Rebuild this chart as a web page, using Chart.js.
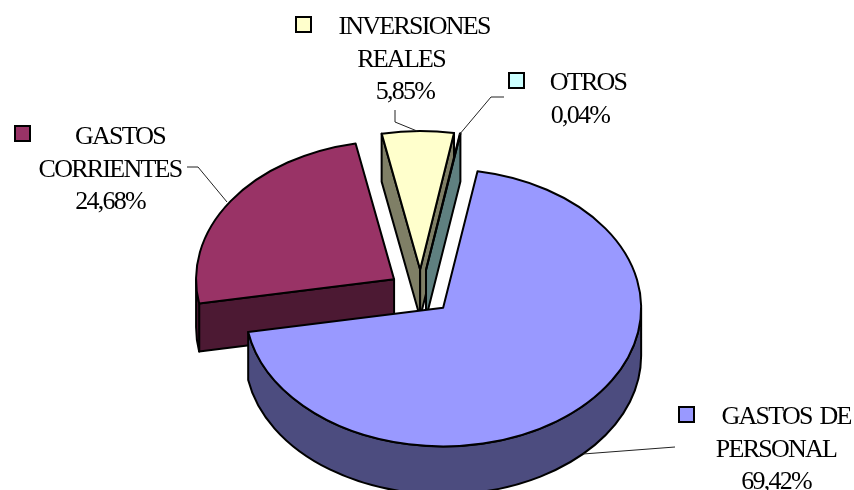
<!DOCTYPE html>
<html>
<head>
<meta charset="utf-8">
<title>Gastos</title>
<script src="https://cdn.jsdelivr.net/npm/chart.js@4"></script>
<style>
    html, body { margin: 0; padding: 0; background: #fff; }
    canvas { display: block; }
</style>
</head>
<body>
<canvas id="pie" width="854" height="490"></canvas>
<script>
// Data
const categories = ['GASTOS DE PERSONAL', 'GASTOS CORRIENTES', 'INVERSIONES REALES', 'OTROS'];
const values = [69.42, 24.68, 5.85, 0.04];
const labelLines = [['GASTOS DE', 'PERSONAL'], ['GASTOS', 'CORRIENTES'], ['INVERSIONES', 'REALES'], ['OTROS']];
const topColors = ['#9999ff', '#993366', '#ffffcc', '#ccffff'];
const sideColors = ['#4c4c7f', '#4c1933', '#7f7f66', '#5f8080'];

// 3D look of the pie
const TILT = 0.7;
const DEPTH = 48;
const EXPLODE = 32;
const RADIUS = 198;

// Label layout: key square, text centres, leader polyline (one entry per category)
const labelBoxes = [
    { key: [679, 407], xs: [786, 776, 776], y: 424, leader: [[675, 447], [583, 454]] },
    { key: [15, 126], xs: [120, 110, 110], y: 144, leader: [[187, 167], [198, 167], [227, 202]] },
    { key: [296, 17], xs: [414, 401, 405], y: 34, leader: [[395, 110], [395, 122], [417, 131]] },
    { key: [509, 73], xs: [588, 580], y: 90, leader: [[504, 97], [491, 97], [459, 135]] }
];
const LINE_HEIGHT = 32.7;

const formatPct = (v) => v.toFixed(2).replace('.', ',') + '%';

// Draws the slices from the doughnut controller's arc angles, squashed and extruded
const pie3d = {
    id: 'pie3d',
    beforeDatasetDraw(chart, args) {
        const ctx = chart.ctx;
        const arcs = args.meta.data.map((arc, i) => {
            const mid = (arc.startAngle + arc.endAngle) / 2;
            return {
                i,
                a0: arc.startAngle,
                a1: arc.endAngle,
                r: arc.outerRadius,
                cx: arc.x + Math.cos(mid) * EXPLODE,
                cy: arc.y + Math.sin(mid) * EXPLODE * TILT
            };
        });
        arcs.sort((a, b) => a.cy - b.cy);

        ctx.save();
        ctx.lineWidth = 2;
        ctx.lineJoin = 'round';
        ctx.strokeStyle = '#000';
        arcs.forEach(s => {
            const ry = s.r * TILT;
            const paint = (color) => {
                ctx.fillStyle = color;
                ctx.fill();
                ctx.stroke();
            };
            // flat cut faces, skipping the ones turned away from the viewer
            const faces = [];
            if (Math.cos(s.a0) < 0) faces.push(s.a0);
            if (Math.cos(s.a1) > 0) faces.push(s.a1);
            faces.forEach(a => {
                const px = s.cx + Math.cos(a) * s.r;
                const py = s.cy + Math.sin(a) * ry;
                ctx.beginPath();
                ctx.moveTo(s.cx, s.cy);
                ctx.lineTo(px, py);
                ctx.lineTo(px, py + DEPTH);
                ctx.lineTo(s.cx, s.cy + DEPTH);
                ctx.closePath();
                paint(sideColors[s.i]);
            });
            // outer rim, only the part facing the viewer
            [-2 * Math.PI, 0, 2 * Math.PI].forEach(shift => {
                const from = Math.max(s.a0 + shift, 0);
                const to = Math.min(s.a1 + shift, Math.PI);
                if (to <= from) return;
                ctx.beginPath();
                ctx.ellipse(s.cx, s.cy, s.r, ry, 0, from, to);
                ctx.ellipse(s.cx, s.cy + DEPTH, s.r, ry, 0, to, from, true);
                ctx.closePath();
                paint(sideColors[s.i]);
            });
            // top face
            ctx.beginPath();
            ctx.moveTo(s.cx, s.cy);
            ctx.ellipse(s.cx, s.cy, s.r, ry, 0, s.a0, s.a1);
            ctx.closePath();
            paint(topColors[s.i]);
        });
        ctx.restore();
        return false;
    },
    afterDraw(chart) {
        const ctx = chart.ctx;
        ctx.save();
        labelBoxes.forEach((box, i) => {
            // leader line
            ctx.beginPath();
            box.leader.forEach(([x, y], n) => n ? ctx.lineTo(x, y) : ctx.moveTo(x, y));
            ctx.strokeStyle = '#222';
            ctx.lineWidth = 1;
            ctx.stroke();
            // key square
            ctx.fillStyle = topColors[i];
            ctx.strokeStyle = '#000';
            ctx.lineWidth = 2;
            ctx.fillRect(box.key[0], box.key[1], 15, 15);
            ctx.strokeRect(box.key[0], box.key[1], 15, 15);
            // text
            ctx.fillStyle = '#000';
            ctx.font = '26px "Liberation Serif"';
            ctx.letterSpacing = '-1.75px';
            ctx.wordSpacing = '3px';
            ctx.textAlign = 'center';
            [...labelLines[i], formatPct(values[i])].forEach((line, n) => {
                ctx.fillText(line, box.xs[n], box.y + n * LINE_HEIGHT);
            });
        });
        ctx.restore();
    }
};

new Chart(document.getElementById('pie'), {
    type: 'pie',
    data: {
        labels: categories,
        datasets: [{ data: values, backgroundColor: topColors, borderWidth: 0 }]
    },
    options: {
        responsive: false,
        animation: false,
        rotation: 10,
        radius: RADIUS,
        layout: { padding: { top: 94, right: 13 } },
        plugins: { legend: { display: false }, tooltip: { enabled: false } }
    },
    plugins: [pie3d]
});
</script>
</body>
</html>
